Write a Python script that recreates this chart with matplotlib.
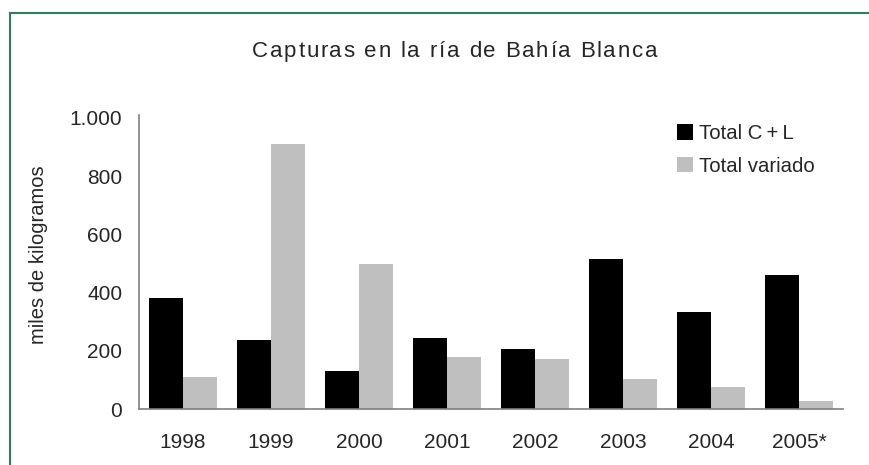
import numpy as np
import matplotlib
matplotlib.use('Agg')
import matplotlib.pyplot as plt
from matplotlib.lines import Line2D
from matplotlib.font_manager import FontProperties
from matplotlib.textpath import text_to_path

plt.rcParams['font.family'] = ['Liberation Sans', 'DejaVu Sans']

years = ['1998', '1999', '2000', '2001', '2002', '2003', '2004', '2005*']
total_cl = [383, 238, 131, 245, 207, 514, 334, 459]
total_variado = [110, 912, 498, 179, 172, 103, 76, 28]
yticks = [0, 200, 400, 600, 800, 1000]
ytick_labels = ['0', '200', '400', '600', '800', '1.000']
title = 'Capturas en la ría de Bahía Blanca'

W, H = 869, 465
fig = plt.figure(figsize=(W / 100, H / 100), dpi=100)
ax = fig.add_axes([0.16, 0.1204, 0.81, 0.6323])

x = np.arange(len(years))
w = 0.386
ax.bar(x - w / 2, total_cl, w, color='#000000', label='Total C\u2009+\u2009L')
ax.bar(x + w / 2, total_variado, w, color='#bfbfbf', label='Total variado')

ax.set_xlim(-0.5, len(years) - 0.5)
ax.set_ylim(0, 1010)
ax.set_xticks(x)
ax.set_xticklabels(years)
ax.set_yticks(yticks)
ax.set_yticklabels(ytick_labels)
ax.tick_params(length=0, labelsize=15, colors='#262626')
ax.tick_params(axis='y', pad=12)
ax.tick_params(axis='x', pad=17)
for s in ['top', 'right']:
    ax.spines[s].set_visible(False)
for s in ['left', 'bottom']:
    ax.spines[s].set_color('#7f7f7f')
    ax.spines[s].set_linewidth(1.2)

fig.text(0.044, 1 - 255 / H, 'miles de kilogramos', rotation=90, ha='center', va='center',
         fontsize=14.5, color='#262626')

# title with a bit of letter spacing, drawn char by char
prop = FontProperties(family='Liberation Sans', size=16)
def tw(s):
    return text_to_path.get_text_width_height_descent(s, prop, ismath=False)[0]
bar_w = tw('|')
target = 405 * 0.72  # px -> pt
sp = (target - tw(title)) / (len(title) - 1)
x0 = 252
for i, ch in enumerate(title):
    if ch == ' ':
        continue
    off = (tw(title[:i] + '|') - bar_w + i * sp) * 100 / 72
    fig.text((x0 + off) / W, 1 - 57 / H, ch, ha='left', va='baseline',
             fontproperties=prop, color='#262626')

fig.legend(loc='upper left', bbox_to_anchor=(0.779, 0.733), frameon=False,
           fontsize=14.7, borderpad=0, borderaxespad=0, handlelength=0.8,
           handleheight=0.8, handletextpad=0.3, labelspacing=0.66,
           labelcolor='#262626')

# green frame, top and left
green = '#2e7d5b'
fig.add_artist(Line2D([10 / W, 1], [1 - 13 / H, 1 - 13 / H], color=green, lw=1.5))
fig.add_artist(Line2D([10 / W, 10 / W], [0, 1 - 13 / H], color=green, lw=1.5))

fig.savefig('out.png', dpi=100)
